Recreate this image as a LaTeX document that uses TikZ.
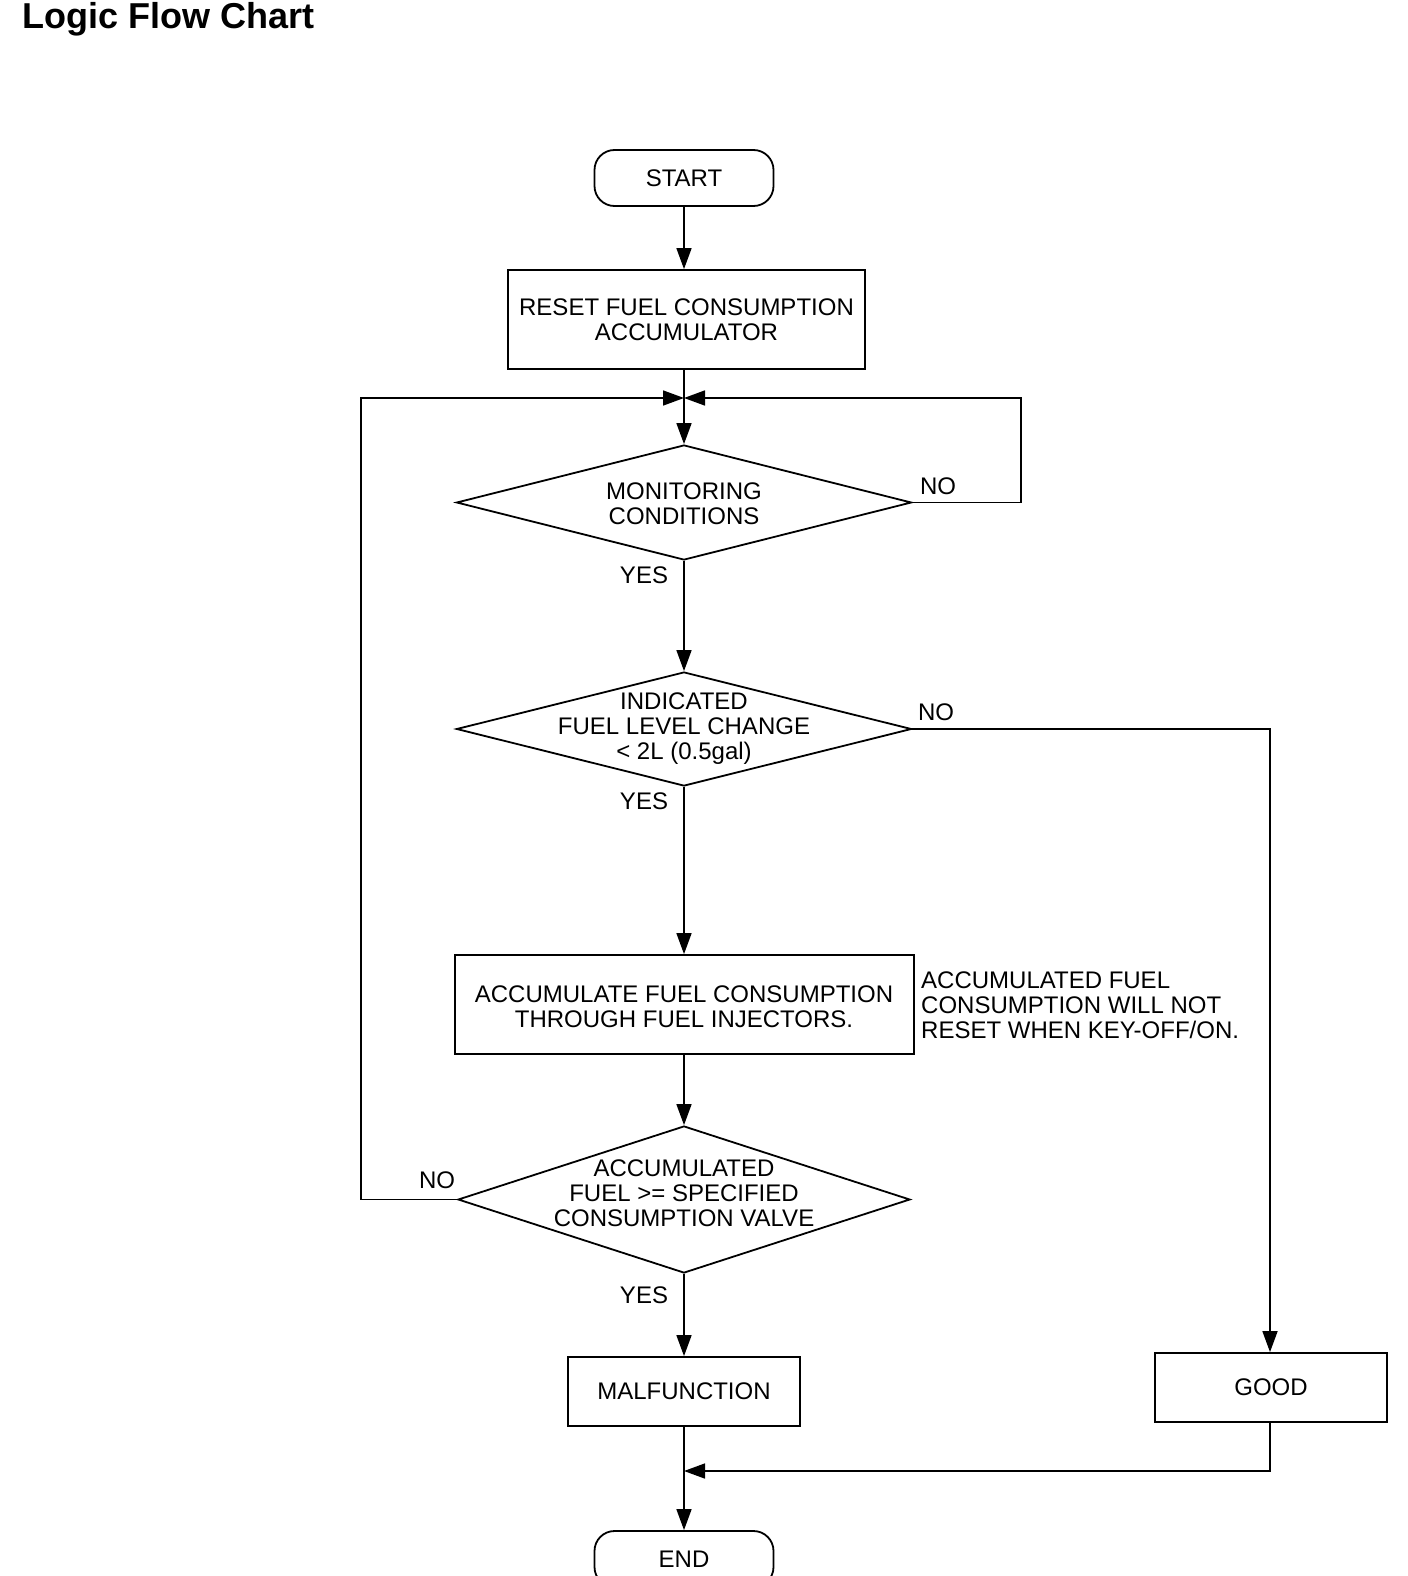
\documentclass[tikz,border=0pt]{standalone}
\usepackage{fontspec}
\setmainfont{Liberation Sans}
\usetikzlibrary{shapes.geometric,arrows.meta}
\begin{document}
\begin{tikzpicture}[x=1bp,y=-1bp,
  box/.style={draw,line width=1.8bp,rectangle,inner sep=0pt},
  term/.style={draw,line width=1.8bp,rectangle,rounded corners=20bp,inner sep=0pt,minimum width=179bp,minimum height=56bp},
  dia/.style={draw,line width=1.8bp,diamond,inner sep=0pt},
  txt/.style={align=center,font=\fontsize{24bp}{25bp}\selectfont,inner sep=0pt},
  lbl/.style={font=\fontsize{24bp}{25bp}\selectfont,inner sep=0pt},
  conn/.style={line width=1.6bp,-{Triangle[length=21bp,width=15bp]}}
]
\useasboundingbox (0,0) rectangle (1408,1576);
\node[anchor=west,font=\fontsize{36bp}{38bp}\selectfont\bfseries,inner sep=0pt] (title) at (22,19) {Logic Flow Chart};

\node[term] (start) at (684,178) {};
\node[txt] (startt) at (start) {START};

\node[box,minimum width=357bp,minimum height=99bp] (reset) at (686.5,319.5) {};
\node[txt] (resett) at (reset) {RESET FUEL CONSUMPTION\\ACCUMULATOR};

\coordinate (j) at (684,398);

\node[dia,minimum width=455bp,minimum height=115bp] (d1) at (684,502.5) {};
\node[txt] (d1t) at (684,504) {MONITORING\\CONDITIONS};

\node[dia,minimum width=455bp,minimum height=114bp] (d2) at (684,729) {};
\node[txt] (d2t) at (684,729) {INDICATED\\FUEL LEVEL CHANGE\\\textless{} 2L (0.5gal)};

\node[box,minimum width=459bp,minimum height=99bp] (acc) at (684.5,1004.5) {};
\node[txt] (acct) at (684,1007) {ACCUMULATE FUEL CONSUMPTION\\THROUGH FUEL INJECTORS.};
\node[txt,align=left,anchor=west] (note) at (921,1005) {ACCUMULATED FUEL\\CONSUMPTION WILL NOT\\RESET WHEN KEY-OFF/ON.};

\node[dia,minimum width=452bp,minimum height=147bp] (d3) at (684,1199.5) {};
\node[txt] (d3t) at (684,1193) {ACCUMULATED\\FUEL \textgreater= SPECIFIED\\CONSUMPTION VALVE};

\node[box,minimum width=232bp,minimum height=69bp] (mal) at (684,1391.5) {};
\node[txt] (malt) at (mal) {MALFUNCTION};

\node[box,minimum width=232bp,minimum height=69bp] (good) at (1271,1387.5) {};
\node[txt] (goodt) at (good) {GOOD};

\node[term] (end) at (684,1559) {};
\node[txt] (endt) at (684,1559) {END};

\coordinate (m) at (684,1471);

% labels
\node[lbl] (yes1) at (644,575) {YES};
\node[lbl] (no1) at (938,486) {NO};
\node[lbl] (yes2) at (644,801) {YES};
\node[lbl] (no2) at (936,712) {NO};
\node[lbl] (no3) at (437,1180) {NO};
\node[lbl] (yes3) at (644,1295) {YES};

% connectors
\draw[conn] (start.south) -- (reset.north -| start.south);
\draw[conn] (reset.south -| j) -- (d1.north);
\draw[conn] (d1.east) -- (1021,502.5) -- (1021,398) -- (j);
\draw[conn] (d1.south) -- (d2.north);
\draw[conn] (d2.east) -- (1270,729) -- (good.north -| 1270,0);
\draw[conn] (d2.south) -- (acc.north -| j);
\draw[conn] (acc.south -| j) -- (d3.north);
\draw[conn] (d3.west) -- (361,1199.5) -- (361,398) -- (j);
\draw[conn] (d3.south) -- (mal.north);
\draw[conn] (mal.south) -- (end.north);
\draw[conn] (good.south -| 1270,0) -- (1270,1471) -- (m);
\end{tikzpicture}
\end{document}
